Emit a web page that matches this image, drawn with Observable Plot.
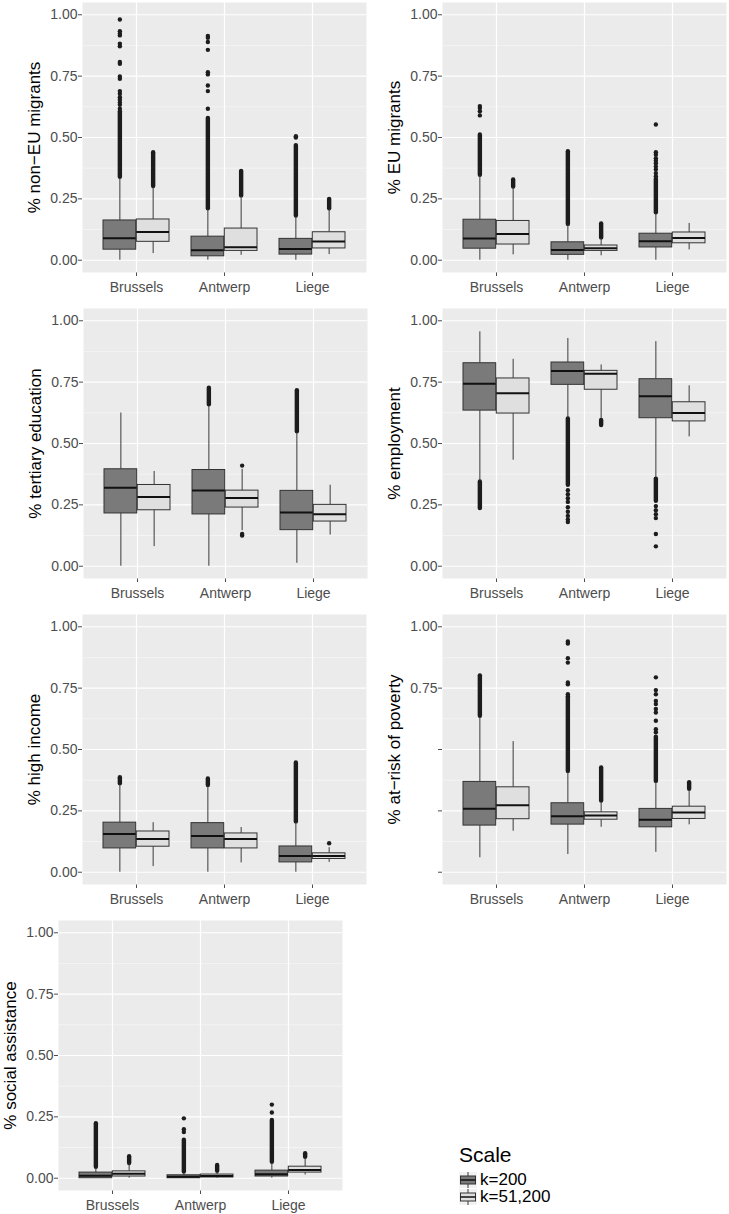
<!DOCTYPE html>
<html><head><meta charset="utf-8">
<script src="https://cdn.jsdelivr.net/npm/d3@7"></script>
<script src="https://cdn.jsdelivr.net/npm/@observablehq/plot@0.6"></script>
<style>
body{margin:0;background:#fff;font-family:"Liberation Sans",Arial,Helvetica,sans-serif;}
#chart{position:relative;width:729px;height:1214px;overflow:hidden;background:#fff;}
.panel{position:absolute;}
.panel svg{background:transparent !important;}
#legend{position:absolute;left:459px;top:1142px;color:#000;}
#legend .title{font-size:21px;line-height:26px;margin-bottom:3px;}
#legend .row{display:flex;align-items:center;height:17px;line-height:17px;font-size:17px;}
#legend .row svg{margin-right:3px;display:block;}
</style></head><body><div id="chart"></div>
<script>
const cities = ["Brussels", "Antwerp", "Liege"];
const scales = ["k=200", "k=51,200"];
const yTicks = [0, 0.25, 0.5, 0.75, 1];
const yMinor = [0.125, 0.375, 0.625, 0.875];
const yTickLabels = ["0.00", "0.25", "0.50", "0.75", "1.00"];
const povertyTickLabels = ["", "", "", "0.75", "1.00"];
const titles = ["% non\u2212EU migrants", "% EU migrants", "% tertiary education", "% employment", "% high income", "% at\u2212risk of poverty", "% social assistance"];

// boxes: [city, scale, lower whisker, q1, median, q3, upper whisker]
const nonEuBoxes = [
  ["Brussels", "k=200", 0, .043, .090, .162, .332],
  ["Brussels", "k=51,200", .027, .075, .115, .166, .295],
  ["Antwerp", "k=200", 0, .016, .041, .096, .206],
  ["Antwerp", "k=51,200", .02, .038, .053, .129, .258],
  ["Liege", "k=200", 0, .023, .046, .087, .176],
  ["Liege", "k=51,200", .023, .048, .076, .114, .206]
];
// dense outlier runs: [city, scale, from, to]
const nonEuRuns = [
  ["Brussels", "k=200", .338, .605], ["Brussels", "k=51,200", .30, .438],
  ["Antwerp", "k=200", .21, .578], ["Antwerp", "k=51,200", .262, .362],
  ["Liege", "k=200", .18, .467], ["Liege", "k=51,200", .21, .248]
];
// isolated outliers: [city, scale, values]
const nonEuDots = [
  ["Brussels", "k=200", [.617, .633, .643, .654, .664, .678, .689, .739, .749, .80, .808, .872, .882, .916, .923, .933, .981]],
  ["Antwerp", "k=200", [.617, .689, .712, .757, .766, .857, .889, .906, .914]],
  ["Liege", "k=200", [.50, .505]]
];

const euBoxes = [
  ["Brussels", "k=200", 0, .047, .089, .165, .343],
  ["Brussels", "k=51,200", .022, .064, .107, .16, .295],
  ["Antwerp", "k=200", 0, .022, .042, .073, .143],
  ["Antwerp", "k=51,200", .018, .038, .049, .06, .088],
  ["Liege", "k=200", 0, .052, .077, .108, .19],
  ["Liege", "k=51,200", .042, .069, .091, .113, .15]
];
const euRuns = [
  ["Brussels", "k=200", .346, .51], ["Brussels", "k=51,200", .298, .327],
  ["Antwerp", "k=200", .146, .442], ["Antwerp", "k=51,200", .091, .148],
  ["Liege", "k=200", .193, .33]
];
const euDots = [
  ["Brussels", "k=200", [.59, .607, .62, .628]],
  ["Liege", "k=200", [.342, .355, .37, .382, .395, .405, .415, .43, .44, .553]]
];

const tertiaryBoxes = [
  ["Brussels", "k=200", 0, .215, .32, .395, .624],
  ["Brussels", "k=51,200", .08, .228, .282, .331, .386],
  ["Antwerp", "k=200", 0, .211, .309, .392, .651],
  ["Antwerp", "k=51,200", .145, .239, .278, .308, .395],
  ["Liege", "k=200", .012, .147, .219, .307, .543],
  ["Liege", "k=51,200", .127, .182, .212, .25, .33]
];
const tertiaryRuns = [
  ["Antwerp", "k=200", .658, .725], ["Liege", "k=200", .548, .715]
];
const tertiaryDots = [
  ["Antwerp", "k=51,200", [.125, .131, .41]]
];

const employmentBoxes = [
  ["Brussels", "k=200", .347, .634, .743, .827, .955],
  ["Brussels", "k=51,200", .432, .622, .705, .765, .843],
  ["Antwerp", "k=200", .604, .739, .795, .83, .928],
  ["Antwerp", "k=51,200", .60, .719, .784, .796, .82],
  ["Liege", "k=200", .361, .603, .692, .762, .915],
  ["Liege", "k=51,200", .527, .59, .624, .668, .735]
];
const employmentRuns = [
  ["Brussels", "k=200", .235, .343], ["Antwerp", "k=200", .33, .60],
  ["Antwerp", "k=51,200", .573, .594], ["Liege", "k=200", .265, .355]
];
const employmentDots = [
  ["Antwerp", "k=200", [.31, .293, .277, .262, .24, .222, .205, .19, .18]],
  ["Liege", "k=200", [.245, .228, .212, .196, .131, .081]]
];

const incomeBoxes = [
  ["Brussels", "k=200", 0, .097, .156, .202, .357],
  ["Brussels", "k=51,200", .023, .104, .135, .166, .202],
  ["Antwerp", "k=200", 0, .097, .148, .2, .35],
  ["Antwerp", "k=51,200", .038, .097, .135, .158, .182],
  ["Liege", "k=200", 0, .04, .066, .105, .202],
  ["Liege", "k=51,200", .04, .054, .066, .077, .1]
];
const incomeRuns = [
  ["Brussels", "k=200", .36, .385], ["Antwerp", "k=200", .353, .38],
  ["Liege", "k=200", .205, .445]
];
const incomeDots = [
  ["Liege", "k=51,200", [.118]]
];

const povertyBoxes = [
  ["Brussels", "k=200", .059, .19, .259, .368, .631],
  ["Brussels", "k=51,200", .167, .216, .273, .346, .532],
  ["Antwerp", "k=200", .072, .194, .228, .281, .407],
  ["Antwerp", "k=51,200", .183, .214, .231, .244, .285],
  ["Liege", "k=200", .081, .183, .214, .258, .366],
  ["Liege", "k=51,200", .193, .217, .243, .267, .333]
];
const povertyRuns = [
  ["Brussels", "k=200", .635, .80], ["Antwerp", "k=200", .41, .715],
  ["Antwerp", "k=51,200", .29, .425], ["Liege", "k=200", .37, .55],
  ["Liege", "k=51,200", .338, .365]
];
const povertyDots = [
  ["Antwerp", "k=200", [.725, .766, .773, .854, .872, .932, .94]],
  ["Liege", "k=200", [.57, .583, .617, .651, .665, .685, .698, .725, .742, .794]]
];

const socialBoxes = [
  ["Brussels", "k=200", 0, 0, .01, .023, .039],
  ["Brussels", "k=51,200", 0, .007, .018, .028, .058],
  ["Antwerp", "k=200", 0, 0, .006, .012, .02],
  ["Antwerp", "k=51,200", 0, .003, .009, .015, .022],
  ["Liege", "k=200", 0, .007, .016, .031, .061],
  ["Liege", "k=51,200", .013, .023, .034, .047, .08]
];
const socialRuns = [
  ["Brussels", "k=200", .045, .222], ["Brussels", "k=51,200", .06, .088],
  ["Antwerp", "k=200", .025, .155], ["Antwerp", "k=51,200", .028, .052],
  ["Liege", "k=200", .065, .235], ["Liege", "k=51,200", .085, .1]
];
const socialDots = [
  ["Antwerp", "k=200", [.188, .2, .244]],
  ["Liege", "k=200", [.268, .3]]
];

const fills = ["#7a7a7a", "#dfdfdf"];
const outlierColor = "#1c1c1c";

function makePanel({boxes, runs, dots, title, tickLabels, left, top, marginLeft}) {
  const W = 284, H = 270;
  const step = W / 3.2;
  const half = step * 0.75 / 2;   // one box's width
  const q = half / 2;             // dodge offset of each box centre
  const boxRows = boxes.map(([city, scale, lo, q1, med, q3, hi]) => ({city, scale, lo, q1, med, q3, hi}));
  const runRows = runs.map(([city, scale, a, b]) => ({city, scale, a, b}));
  const dotRows = dots.flatMap(([city, scale, vs]) => vs.map(v => ({city, scale, v})));
  const marks = [
    Plot.frame({fill: "#ebebeb", stroke: "none"}),
    Plot.ruleY(yMinor, {stroke: "#fafafa", strokeWidth: 0.6}),
    Plot.ruleY(yTicks, {stroke: "#ffffff", strokeWidth: 1.2}),
    Plot.ruleX(cities, {x: d => d, stroke: "#ffffff", strokeWidth: 1.2})
  ];
  scales.forEach((s, i) => {
    const dx = (i ? 1 : -1) * q;
    const inset = i ? {insetLeft: half} : {insetRight: half};
    const b = boxRows.filter(d => d.scale === s);
    marks.push(
      Plot.ruleX(runRows.filter(d => d.scale === s), {x: "city", y1: "a", y2: "b", dx, stroke: outlierColor, strokeWidth: 4.4, strokeLinecap: "round"}),
      Plot.dot(dotRows.filter(d => d.scale === s), {x: "city", y: "v", dx, r: 2.2, fill: outlierColor, stroke: "none"}),
      Plot.ruleX(b, {x: "city", y1: "lo", y2: "q1", dx, stroke: "#3a3a3a", strokeWidth: 1}),
      Plot.ruleX(b, {x: "city", y1: "q3", y2: "hi", dx, stroke: "#3a3a3a", strokeWidth: 1}),
      Plot.barY(b, {x: "city", y1: "q1", y2: "q3", fill: fills[i], stroke: "#333333", strokeWidth: 1, ...inset}),
      Plot.tickY(b, {x: "city", y: "med", stroke: "#111111", strokeWidth: 2, ...inset})
    );
  });
  marks.push(Plot.text([title], {text: d => d, frameAnchor: "left", textAnchor: "middle", lineAnchor: "middle", rotate: -90, dx: -48, fontSize: 17, fill: "#000000"}));
  const svg = Plot.plot({
    width: marginLeft + W,
    height: H + 34,
    marginLeft, marginRight: 0, marginTop: 0, marginBottom: 34,
    style: {fontFamily: "'Liberation Sans', Arial, Helvetica, sans-serif", fontSize: "14px", color: "#4d4d4d", background: "transparent", overflow: "visible"},
    x: {type: "band", domain: cities, paddingInner: 0.25, paddingOuter: 0.225, align: 0.5, label: null, tickSize: 4, tickPadding: 6},
    y: {domain: [-0.05, 1.05], ticks: yTicks, tickFormat: d => tickLabels[yTicks.indexOf(d)], label: null, tickSize: 4, tickPadding: 1},
    marks
  });
  const div = document.createElement("div");
  div.className = "panel";
  div.style.left = left + "px";
  div.style.top = top + "px";
  div.appendChild(svg);
  document.getElementById("chart").appendChild(div);
}

const panels = [
  {boxes: nonEuBoxes, runs: nonEuRuns, dots: nonEuDots, title: titles[0], tickLabels: yTickLabels, left: 0, top: 2, marginLeft: 82},
  {boxes: euBoxes, runs: euRuns, dots: euDots, title: titles[1], tickLabels: yTickLabels, left: 360, top: 2, marginLeft: 82},
  {boxes: tertiaryBoxes, runs: tertiaryRuns, dots: tertiaryDots, title: titles[2], tickLabels: yTickLabels, left: 0, top: 308, marginLeft: 83},
  {boxes: employmentBoxes, runs: employmentRuns, dots: employmentDots, title: titles[3], tickLabels: yTickLabels, left: 360, top: 308, marginLeft: 82},
  {boxes: incomeBoxes, runs: incomeRuns, dots: incomeDots, title: titles[4], tickLabels: yTickLabels, left: 0, top: 614, marginLeft: 82},
  {boxes: povertyBoxes, runs: povertyRuns, dots: povertyDots, title: titles[5], tickLabels: povertyTickLabels, left: 360, top: 614, marginLeft: 82},
  {boxes: socialBoxes, runs: socialRuns, dots: socialDots, title: titles[6], tickLabels: yTickLabels, left: 0, top: 920, marginLeft: 58}
];
panels.forEach(makePanel);

// legend
const legend = document.createElement("div");
legend.id = "legend";
const lt = document.createElement("div");
lt.className = "title";
lt.textContent = "Scale";
legend.appendChild(lt);
scales.forEach((s, i) => {
  const row = document.createElement("div");
  row.className = "row";
  row.innerHTML = `<svg width="18" height="16" viewBox="0 0 18 16">
    <rect x="0" y="0" width="18" height="16" fill="#f2f2f2"/>
    <line x1="9" x2="9" y1="0" y2="4" stroke="#3a3a3a" stroke-width="1"/>
    <line x1="9" x2="9" y1="12" y2="16" stroke="#3a3a3a" stroke-width="1"/>
    <rect x="1.5" y="4" width="15" height="8" fill="${fills[i]}" stroke="#333" stroke-width="1"/>
    <line x1="1.5" x2="16.5" y1="8" y2="8" stroke="#111" stroke-width="1.5"/>
  </svg><span>${s}</span>`;
  legend.appendChild(row);
});
document.getElementById("chart").appendChild(legend);
</script>
</body></html>
